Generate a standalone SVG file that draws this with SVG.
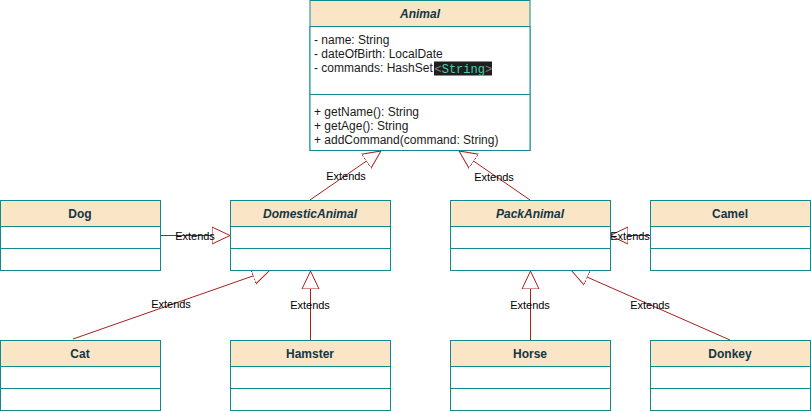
<svg xmlns="http://www.w3.org/2000/svg" width="811" height="411" viewBox="0 0 811 411">
<style>
.box{fill:#ffffff;stroke:#0F8B8D;stroke-width:1}
.hdr{fill:#FAE5C7;stroke:#0F8B8D;stroke-width:1}
.sep{stroke:#0F8B8D;stroke-width:1;fill:none}
.title{font-family:"Liberation Sans",Arial,sans-serif;font-size:12px;font-weight:bold;fill:#143642;text-anchor:middle}
.it{font-style:italic}
.attr{font-family:"Liberation Sans",Arial,sans-serif;font-size:12px;fill:#1a1a1a}
.code{font-family:"Liberation Mono","Courier New",monospace;font-size:12px}
.edge{stroke:#A8201A;stroke-width:1;fill:none}
.lbl{font-family:"Liberation Sans",Arial,sans-serif;font-size:11px;fill:#000000;text-anchor:middle}
</style>
<defs>
<marker id="tri" markerWidth="20" markerHeight="20" viewBox="0 0 20 20" refX="18" refY="10" orient="auto" markerUnits="userSpaceOnUse">
<path d="M0,1.5 L18,10 L0,18.5 Z" fill="#ffffff" stroke="#A8201A" stroke-width="1"/>
</marker>
</defs>
<rect width="811" height="411" fill="#ffffff"/>

<g id="connectors">
<line class="edge" x1="160" y1="235.5" x2="230" y2="235.5" marker-end="url(#tri)"/>
<text class="lbl" x="195" y="239.5">Extends</text>
<line class="edge" x1="650" y1="235.5" x2="610" y2="235.5" marker-end="url(#tri)"/>
<text class="lbl" x="630" y="239.5">Extends</text>
<line class="edge" x1="310" y1="200" x2="381" y2="151" marker-end="url(#tri)"/>
<text class="lbl" x="346" y="180">Extends</text>
<line class="edge" x1="530" y1="200" x2="459" y2="151" marker-end="url(#tri)"/>
<text class="lbl" x="494" y="181">Extends</text>
<line class="edge" x1="73" y1="339" x2="270" y2="270" marker-end="url(#tri)"/>
<text class="lbl" x="171" y="308">Extends</text>
<line class="edge" x1="310.5" y1="340" x2="310.5" y2="271" marker-end="url(#tri)"/>
<text class="lbl" x="310" y="309">Extends</text>
<line class="edge" x1="530.5" y1="340" x2="530.5" y2="271" marker-end="url(#tri)"/>
<text class="lbl" x="530" y="309">Extends</text>
<line class="edge" x1="730" y1="340" x2="571" y2="270" marker-end="url(#tri)"/>
<text class="lbl" x="650" y="309">Extends</text>
</g>

<g id="Animal">
<rect class="hdr" x="310" y="0.5" width="220" height="150"/>
<rect class="box" x="310" y="26.5" width="220" height="124"/>
<line class="sep" x1="310" y1="94.5" x2="530" y2="94.5"/>
<text class="title it" x="420" y="18">Animal</text>
<text class="attr" x="314" y="44">- name: String</text>
<text class="attr" x="314" y="58">- dateOfBirth: LocalDate</text>
<rect x="434" y="61.5" width="58" height="14" fill="#1e1e1e"/>
<text class="attr" x="314" y="72">- commands: HashSet</text>
<text class="code" x="434.5" y="72.5"><tspan fill="#808080">&lt;</tspan><tspan fill="#4EC9B0">String</tspan><tspan fill="#808080">&gt;</tspan></text>
<text class="attr" x="314" y="116">+ getName(): String</text>
<text class="attr" x="314" y="130">+ getAge(): String</text>
<text class="attr" x="314" y="144">+ addCommand(command: String)</text>
</g>

<g id="Dog">
<rect class="hdr" x="0.5" y="200.5" width="160" height="70"/>
<rect class="box" x="0.5" y="226.5" width="160" height="44"/>
<line class="sep" x1="0.5" y1="248.5" x2="160.5" y2="248.5"/>
<text class="title" x="80" y="218">Dog</text>
</g>

<g id="DomesticAnimal">
<rect class="hdr" x="230.5" y="200.5" width="160" height="70"/>
<rect class="box" x="230.5" y="226.5" width="160" height="44"/>
<line class="sep" x1="230.5" y1="248.5" x2="390.5" y2="248.5"/>
<text class="title it" x="310" y="218">DomesticAnimal</text>
</g>

<g id="PackAnimal">
<rect class="hdr" x="450.5" y="200.5" width="160" height="70"/>
<rect class="box" x="450.5" y="226.5" width="160" height="44"/>
<line class="sep" x1="450.5" y1="248.5" x2="610.5" y2="248.5"/>
<text class="title it" x="530" y="218">PackAnimal</text>
</g>

<g id="Camel">
<rect class="hdr" x="650.5" y="200.5" width="160" height="70"/>
<rect class="box" x="650.5" y="226.5" width="160" height="44"/>
<line class="sep" x1="650.5" y1="248.5" x2="810.5" y2="248.5"/>
<text class="title" x="730" y="218">Camel</text>
</g>

<g id="Cat">
<rect class="hdr" x="0.5" y="340.5" width="160" height="70"/>
<rect class="box" x="0.5" y="366.5" width="160" height="44"/>
<line class="sep" x1="0.5" y1="388.5" x2="160.5" y2="388.5"/>
<text class="title" x="80" y="358">Cat</text>
</g>

<g id="Hamster">
<rect class="hdr" x="230.5" y="340.5" width="160" height="70"/>
<rect class="box" x="230.5" y="366.5" width="160" height="44"/>
<line class="sep" x1="230.5" y1="388.5" x2="390.5" y2="388.5"/>
<text class="title" x="310" y="358">Hamster</text>
</g>

<g id="Horse">
<rect class="hdr" x="450.5" y="340.5" width="160" height="70"/>
<rect class="box" x="450.5" y="366.5" width="160" height="44"/>
<line class="sep" x1="450.5" y1="388.5" x2="610.5" y2="388.5"/>
<text class="title" x="530" y="358">Horse</text>
</g>

<g id="Donkey">
<rect class="hdr" x="650.5" y="340.5" width="160" height="70"/>
<rect class="box" x="650.5" y="366.5" width="160" height="44"/>
<line class="sep" x1="650.5" y1="388.5" x2="810.5" y2="388.5"/>
<text class="title" x="730" y="358">Donkey</text>
</g>
</svg>
